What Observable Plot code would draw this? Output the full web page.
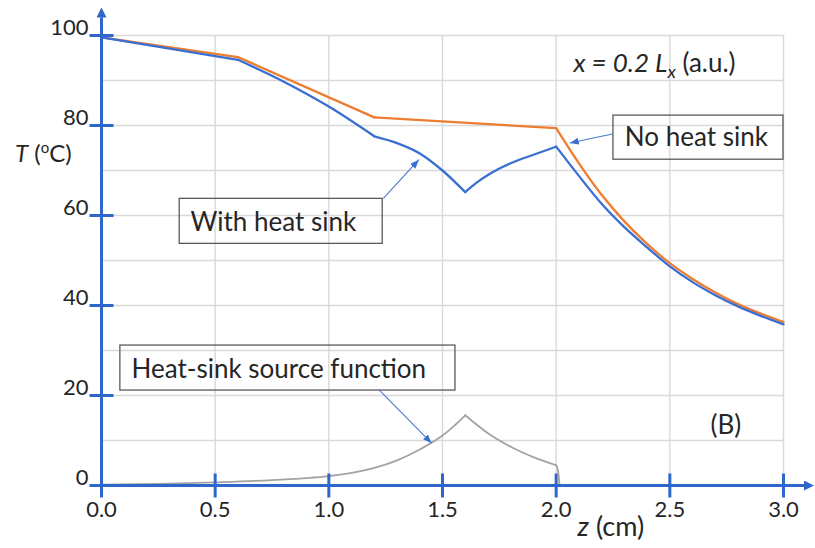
<!DOCTYPE html>
<html>
<head>
<meta charset="utf-8">
<script src="https://cdn.jsdelivr.net/npm/d3@7"></script>
<script src="https://cdn.jsdelivr.net/npm/@observablehq/plot@0.6"></script>
<style>
  html, body { margin: 0; padding: 0; background: #ffffff; }
  #chart svg { display: block; }
</style>
</head>
<body>
<div id="chart"></div>
<script>
// ---------- data ----------
// "No heat sink" (orange) — z (cm), T (°C), piece id
const zNoSink   = [0, 0.6,  0.6, 1.2,  1.2, 2.0,  2.0, 2.1, 2.2, 2.3, 2.4, 2.5, 2.6, 2.7, 2.8, 2.9, 3.0];
const tNoSink   = [99.6, 95.2,  95.2, 81.8,  81.8, 79.4,  79.4, 71.6, 64.6, 58.7, 53.7, 49.4, 45.9, 42.9, 40.3, 38.2, 36.3];
const segNoSink = [1, 1,  2, 2,  3, 3,  4, 4, 4, 4, 4, 4, 4, 4, 4, 4, 4];

// "With heat sink" (blue)
const zWithSink   = [0, 0.6,  0.6, 0.8, 1.0, 1.2,  1.2, 1.3, 1.4, 1.5, 1.6,  1.6, 1.65, 1.7, 1.8, 1.9, 2.0,  2.0, 2.1, 2.2, 2.3, 2.4, 2.5, 2.6, 2.7, 2.8, 2.9, 3.0];
const tWithSink   = [99.6, 94.6,  94.6, 89.8, 84.2, 77.6,  77.6, 76.1, 73.8, 70.0, 65.2,  65.2, 67.3, 69.0, 71.6, 73.5, 75.3,  75.3, 68.8, 62.6, 57.4, 52.9, 48.7, 45.2, 42.3, 39.8, 37.7, 35.8];
const segWithSink = [1, 1,  2, 2, 2, 2,  3, 3, 3, 3, 3,  4, 4, 4, 4, 4, 4,  5, 5, 5, 5, 5, 5, 5, 5, 5, 5, 5];

// "Heat-sink source function" (gray)
const zSource   = [0, 0.25, 0.5, 0.75, 1.0, 1.1, 1.2, 1.3, 1.4, 1.5, 1.55, 1.6,  1.6, 1.7, 1.8, 1.9, 2.0,  2.0, 2.008, 2.015];
const sSource   = [0.2, 0.35, 0.7, 1.2, 2.1, 2.8, 3.9, 5.6, 8.0, 11.1, 13.2, 15.6,  15.6, 11.6, 8.6, 6.3, 4.5,  4.5, 3.3, 0];
const segSource = [1, 1, 1, 1, 1, 1, 1, 1, 1, 1, 1, 1,  2, 2, 2, 2, 2,  3, 3, 3];

// axes / grid
const xTicks = [0, 0.5, 1.0, 1.5, 2.0, 2.5, 3.0];
const yTicks = [0, 20, 40, 60, 80, 100];
const xGrid  = [0.5, 1.0, 1.5, 2.0, 2.5, 3.0];
const yGrid  = [10, 20, 30, 40, 50, 60, 70, 80, 90, 100];

// annotation texts
const boxLabels = ["No heat sink", "With heat sink", "Heat-sink source function"];
const boxX1 = [2.252, 0.344, 0.083];
const boxX2 = [3.0, 1.237, 1.557];
const boxY1 = [82.2, 63.7, 31.1];
const boxY2 = [72.4, 53.7, 21.1];
const boxTextX = [2.302, 0.391, 0.132];
const boxTextY = [77.3, 58.4, 25.8];

// annotation arrows (start -> tip)
const arrX1 = [2.247, 1.240, 1.220];
const arrY1 = [78.1, 63.8, 21.3];
const arrX2 = [2.060, 1.396, 1.452];
const arrY2 = [76.1, 72.4, 9.4];

// free labels
const freeLabels = ["x = 0.2 Lx (a.u.)", "(B)", "T (oC)", "z (cm)"];
const freeX = [2.076, 2.679, -0.38, 2.094];
const freeY = [93.8, 13.2, 73.6, -9.3];
const freeSize = [26, 26, 24, 27];

// axis extents (base of arrowheads)
const xAxisEnd = 3.09;
const yAxisEnd = 104;

// ---------- tables ----------
const noSink   = zNoSink.map((z, i) => ({z, T: tNoSink[i], seg: segNoSink[i]}));
const withSink = zWithSink.map((z, i) => ({z, T: tWithSink[i], seg: segWithSink[i]}));
const source   = zSource.map((z, i) => ({z, T: sSource[i], seg: segSource[i]}));
const boxes    = boxLabels.map((label, i) => ({label, x1: boxX1[i], x2: boxX2[i], y1: boxY1[i], y2: boxY2[i], tx: boxTextX[i], ty: boxTextY[i]}));
const arrows   = arrX1.map((x1, i) => ({x1, y1: arrY1[i], x2: arrX2[i], y2: arrY2[i]}));
const labels   = freeLabels.map((t, i) => ({t, x: freeX[i], y: freeY[i], fs: freeSize[i]}));
const axisLines = [{x1: 0, y1: 0, x2: 0, y2: yAxisEnd}, {x1: 0, y1: 0, x2: xAxisEnd, y2: 0}];

const AXIS = "#2F66CC";
const BLUE = "#3A6FD2";
const ORANGE = "#ED7D31";
const GRAY = "#A3A3A3";
const TEXT = "#262626";

const hBar = {draw(ctx) { ctx.moveTo(-12, 0); ctx.lineTo(12, 0); }};
const vBar = {draw(ctx) { ctx.moveTo(0, -12); ctx.lineTo(0, 12); }};

const chart = Plot.plot({
  width: 815,
  height: 548,
  marginLeft: 101,
  marginRight: 32,
  marginTop: 35,
  marginBottom: 63,
  x: {domain: [0, 3]},
  y: {domain: [0, 100]},
  style: {fontFamily: "Lato, 'Open Sans', sans-serif", color: TEXT, background: "#ffffff", overflow: "visible"},
  marks: [
    Plot.ruleY(yGrid, {stroke: "#d9d9d9", strokeWidth: 1.4}),
    Plot.ruleX(xGrid, {stroke: "#d9d9d9", strokeWidth: 1.4}),
    Plot.line(source, {x: "z", y: "T", z: "seg", stroke: GRAY, strokeWidth: 1.8, curve: "monotone-x"}),
    Plot.line(noSink, {x: "z", y: "T", z: "seg", stroke: ORANGE, strokeWidth: 2.3, curve: "monotone-x"}),
    Plot.line(withSink, {x: "z", y: "T", z: "seg", stroke: BLUE, strokeWidth: 2.3, curve: "monotone-x"}),
    // axes
    Plot.link(axisLines, {x1: "x1", y1: "y1", x2: "x2", y2: "y2", stroke: AXIS, strokeWidth: 3}),
    Plot.dot(yTicks, {x: () => 0, y: d => d, symbol: hBar, r: 6, fill: "none", stroke: AXIS, strokeWidth: 3}),
    Plot.dot(xTicks, {x: d => d, y: () => 0, symbol: vBar, r: 6, fill: "none", stroke: AXIS, strokeWidth: 3}),
    Plot.axisY({ticks: yTicks, tickSize: 0, tickPadding: 13, dy: -8, fontSize: 22, label: null}),
    Plot.axisX({ticks: xTicks, tickSize: 0, tickPadding: 16, fontSize: 22, label: null, tickFormat: d3.format(".1f")}),
    // annotations
    Plot.rect(boxes, {x1: "x1", x2: "x2", y1: "y1", y2: "y2", fill: "none", stroke: "#5a5a5a", strokeWidth: 1.3}),
    Plot.text(boxes, {x: "tx", y: "ty", text: "label", textAnchor: "start", fontSize: 26, fill: TEXT}),
    Plot.link(arrows, {x1: "x1", y1: "y1", x2: "x2", y2: "y2", stroke: "#4A78CF", strokeWidth: 1.1}),
    Plot.text(labels, {x: "x", y: "y", text: "t", textAnchor: "start", fontSize: "fs", fill: TEXT})
  ]
});

document.getElementById("chart").appendChild(chart);

// ---------- post-processing: arrowheads and rich text ----------
const svg = d3.select(chart);
const defs = svg.append("defs");
function addHead(id, color, len, wid, atTip) {
  defs.append("marker")
    .attr("id", id)
    .attr("viewBox", `0 0 ${len} ${wid}`)
    .attr("markerUnits", "userSpaceOnUse")
    .attr("markerWidth", len)
    .attr("markerHeight", wid)
    .attr("refX", atTip ? len : 0)
    .attr("refY", wid / 2)
    .attr("orient", "auto")
    .append("path")
    .attr("d", `M0,0L${len},${wid / 2}L0,${wid}Z`)
    .attr("fill", color);
}
addHead("axhead", AXIS, 10, 10, false);
addHead("annhead", "#3A6FD2", 9, 7, true);
const linkGroups = svg.selectAll('g[aria-label="link"]').nodes();
if (linkGroups[0]) d3.select(linkGroups[0]).selectAll("path").attr("marker-end", "url(#axhead)");
if (linkGroups[1]) d3.select(linkGroups[1]).selectAll("path").attr("marker-end", "url(#annhead)");

function rich(plain, parts) {
  svg.selectAll("text").filter(function () { return this.textContent === plain; }).each(function () {
    const t = d3.select(this);
    t.text(null);
    for (const p of parts) {
      const s = t.append("tspan").text(p.t);
      if (p.i) s.attr("font-style", "italic");
      if (p.fs) s.attr("font-size", p.fs);
      if (p.dy) s.attr("dy", p.dy);
    }
  });
}
rich("x = 0.2 Lx (a.u.)", [
  {t: "x = 0.2 L", i: true},
  {t: "x", i: true, fs: 18, dy: 6},
  {t: " (a.u.)", dy: -6}
]);
rich("T (oC)", [
  {t: "T", i: true},
  {t: " ("},
  {t: "o", fs: 15, dy: -9},
  {t: "C)", dy: 9}
]);
rich("z (cm)", [
  {t: "z", i: true},
  {t: " (cm)"}
]);
</script>
</body>
</html>
